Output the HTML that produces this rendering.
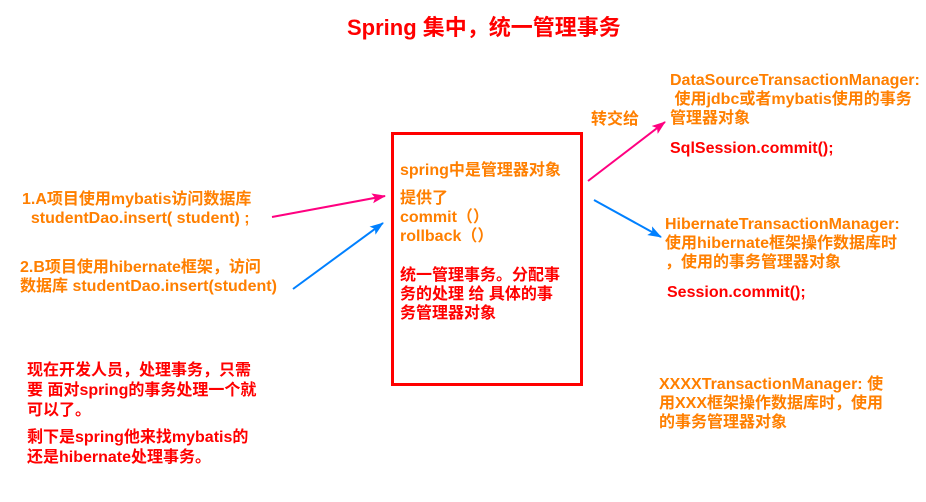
<!DOCTYPE html>
<html><head><meta charset="utf-8"><style>
body{margin:0;width:926px;height:502px;background:#fff;position:relative;overflow:hidden;font-family:"Liberation Sans","Noto Sans CJK SC",sans-serif;font-weight:bold;font-size:16px}
.t{position:absolute;white-space:nowrap;line-height:19px}
.o{color:#ff7f00}.r{color:#f00}
</style></head><body>
<div class="t r" style="left:347px;top:15px;font-size:22px;line-height:26px">Spring 集中，统一管理事务</div>
<div style="position:absolute;left:391px;top:132px;width:186px;height:248px;border:3px solid #f00"></div>
<div class="t o" style="left:400px;top:161px">spring中是管理器对象</div>
<div class="t o" style="left:400px;top:189px">提供了<br>commit（）<br>rollback（）</div>
<div class="t r" style="left:400px;top:266px">统一管理事务。分配事<br>务的处理 给 具体的事<br>务管理器对象</div>
<div class="t o" style="left:22px;top:190px">1.A项目使用mybatis访问数据库<br>&nbsp;&nbsp;studentDao.insert( student) ;</div>
<div class="t o" style="left:20px;top:258px">2.B项目使用hibernate框架，访问<br>数据库 studentDao.insert(student)</div>
<div class="t r" style="left:27px;top:361px;line-height:20px">现在开发人员，处理事务，只需<br>要 面对spring的事务处理一个就<br>可以了。</div>
<div class="t r" style="left:27px;top:428px;line-height:20px">剩下是spring他来找mybatis的<br>还是hibernate处理事务。</div>
<div class="t o" style="left:591px;top:110px">转交给</div>
<div class="t o" style="left:670px;top:71px">DataSourceTransactionManager:<br>&nbsp;使用jdbc或者mybatis使用的事务<br>管理器对象</div>
<div class="t r" style="left:670px;top:139px">SqlSession.commit();</div>
<div class="t o" style="left:665px;top:215px">HibernateTransactionManager:<br>使用hibernate框架操作数据库时<br>，使用的事务管理器对象</div>
<div class="t r" style="left:667px;top:283px">Session.commit();</div>
<div class="t o" style="left:659px;top:375px">XXXXTransactionManager: 使<br>用XXX框架操作数据库时，使用<br>的事务管理器对象</div>
<svg width="926" height="502" style="position:absolute;left:0;top:0">
<defs>
<marker id="p" markerWidth="14" markerHeight="10" refX="13" refY="5" orient="auto" markerUnits="userSpaceOnUse"><path d="M0,0L14,5L0,10L3,5z" fill="#ff0080"/></marker>
<marker id="b" markerWidth="14" markerHeight="10" refX="13" refY="5" orient="auto" markerUnits="userSpaceOnUse"><path d="M0,0L14,5L0,10L3,5z" fill="#0080ff"/></marker>
</defs>
<g stroke-width="2">
<line x1="272" y1="217" x2="385" y2="196" stroke="#ff0080" marker-end="url(#p)"/>
<line x1="293" y1="289" x2="383" y2="223" stroke="#0080ff" marker-end="url(#b)"/>
<line x1="588" y1="181" x2="665" y2="122" stroke="#ff0080" marker-end="url(#p)"/>
<line x1="594" y1="200" x2="661" y2="237" stroke="#0080ff" marker-end="url(#b)"/>
</g></svg>
</body></html>
